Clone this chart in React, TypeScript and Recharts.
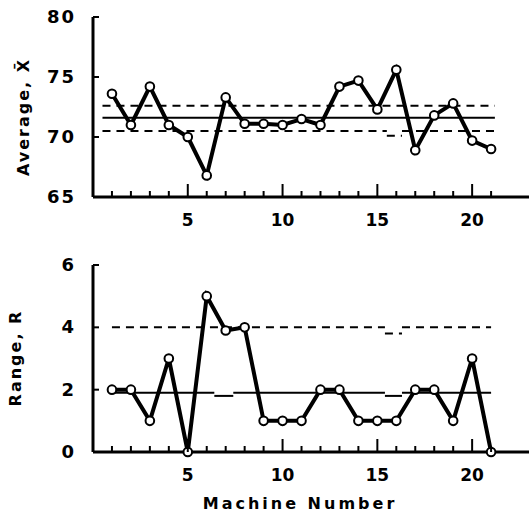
import React from "react";
import {
  LineChart,
  Line,
  XAxis,
  YAxis,
  ReferenceLine,
} from "recharts";

const machines = [1, 2, 3, 4, 5, 6, 7, 8, 9, 10, 11, 12, 13, 14, 15, 16, 17, 18, 19, 20, 21];
const averages = [73.6, 71.0, 74.2, 71.0, 70.0, 66.8, 73.3, 71.1, 71.1, 71.0, 71.5, 71.0, 74.2, 74.7, 72.3, 75.6, 68.9, 71.8, 72.8, 69.7, 69.0];
const ranges = [2, 2, 1, 3, 0, 5, 3.9, 4, 1, 1, 1, 2, 2, 1, 1, 1, 2, 2, 1, 3, 0];

const machineTicks = machines;
const labeledTicks = [5, 10, 15, 20];
const avgTicks = [65, 70, 75, 80];
const rangeTicks = [0, 2, 4, 6];

// control limits, as [from machine, to machine, value] pieces
const avgCenter = [[0.5, 21.2, 71.6]];
const avgUcl = [[0.5, 21.2, 72.6]];
const avgLcl = [
  [0.5, 15.5, 70.5],
  [15.5, 16.3, 70.1],
  [16.3, 21.2, 70.5],
];
const rangeCenter = [
  [1, 6.4, 1.9],
  [6.4, 7.4, 1.8],
  [7.4, 15.4, 1.9],
  [15.4, 16.3, 1.8],
  [16.3, 21, 1.9],
];
const rangeUcl = [
  [1, 15.4, 4.0],
  [15.4, 16.3, 3.8],
  [16.3, 21, 4.0],
];

const avgData = machines.map((m, i) => ({ m, v: averages[i] }));
const rangeData = machines.map((m, i) => ({ m, v: ranges[i] }));

const FONT = "'DejaVu Sans', sans-serif";

function XTick(props: any) {
  const { x, y, payload } = props;
  const major = labeledTicks.includes(payload.value);
  return (
    <g>
      <line x1={x} y1={y} x2={x} y2={y - (major ? 13 : 6)} stroke="#000" strokeWidth={2} />
      {major && (
        <text
          x={x}
          y={y + 29}
          textAnchor="middle"
          fontFamily={FONT}
          fontWeight="bold"
          fontSize={17}
          fill="#000"
        >
          {payload.value}
        </text>
      )}
    </g>
  );
}

function YTick(props: any) {
  const { x, y, payload } = props;
  return (
    <g>
      <line x1={x} y1={y} x2={x + 6} y2={y} stroke="#000" strokeWidth={2} />
      <text
        x={x - 17}
        y={y + 6}
        textAnchor="end"
        fontFamily={FONT}
        fontWeight="bold"
        fontSize={18}
        letterSpacing={2}
        fill="#000"
      >
        {payload.value}
      </text>
    </g>
  );
}

const dotStyle = { r: 4.3, fill: "#fff", stroke: "#000", strokeWidth: 2 };

function limitLines(pieces: number[][], dashed: boolean, key: string) {
  return pieces.map(([a, b, v], i) => (
    <ReferenceLine
      key={key + i}
      segment={[{ x: a, y: v }, { x: b, y: v }]}
      stroke="#000"
      strokeWidth={2}
      strokeDasharray={dashed ? "8 6" : undefined}
    />
  ));
}

function ControlChart({
  data,
  height,
  margin,
  domain,
  yTicks,
  center,
  ucl,
  lcl,
}: any) {
  return (
    <LineChart width={529} height={height} data={data} margin={margin}>
      <XAxis
        dataKey="m"
        type="number"
        domain={[0, 23]}
        ticks={machineTicks}
        interval={0}
        tickSize={0}
        tickMargin={0}
        tickLine={false}
        height={30}
        axisLine={{ stroke: "#000", strokeWidth: 3 }}
        tick={<XTick />}
      />
      <YAxis
        type="number"
        domain={domain}
        ticks={yTicks}
        interval={0}
        tickSize={0}
        tickMargin={0}
        tickLine={false}
        width={60}
        axisLine={{ stroke: "#000", strokeWidth: 3 }}
        tick={<YTick />}
      />
      {limitLines(center, false, "c")}
      {limitLines(ucl, true, "u")}
      {lcl && limitLines(lcl, true, "l")}
      <Line
        type="linear"
        dataKey="v"
        stroke="#000"
        strokeWidth={4}
        dot={dotStyle}
        activeDot={false}
        isAnimationActive={false}
      />
    </LineChart>
  );
}

const titleStyle: React.CSSProperties = {
  position: "absolute",
  fontFamily: FONT,
  fontWeight: "bold",
  fontSize: 16,
  letterSpacing: 2,
  whiteSpace: "nowrap",
  color: "#000",
};

export default function App() {
  return (
    <div
      style={{
        position: "absolute",
        left: 0,
        top: 0,
        width: 529,
        height: 516,
        background: "#fff",
        overflow: "hidden",
      }}
    >
      <div style={{ position: "absolute", left: 0, top: 0 }}>
        <ControlChart
          data={avgData}
          height={240}
          margin={{ top: 17, right: 0, bottom: 13, left: 33 }}
          domain={[65, 80]}
          yTicks={avgTicks}
          center={avgCenter}
          ucl={avgUcl}
          lcl={avgLcl}
        />
      </div>
      <div style={{ position: "absolute", left: 0, top: 240 }}>
        <ControlChart
          data={rangeData}
          height={276}
          margin={{ top: 25, right: 0, bottom: 34, left: 33 }}
          domain={[0, 6]}
          yTicks={rangeTicks}
          center={rangeCenter}
          ucl={rangeUcl}
        />
      </div>
      <div
        style={{
          ...titleStyle,
          left: 23,
          top: 117,
          transform: "translate(-50%, -50%) rotate(-90deg)",
        }}
      >
        Average, X̄
      </div>
      <div
        style={{
          ...titleStyle,
          left: 15,
          top: 358,
          transform: "translate(-50%, -50%) rotate(-90deg)",
        }}
      >
        Range, R
      </div>
      <div
        style={{
          ...titleStyle,
          left: 300,
          top: 494,
          transform: "translateX(-50%)",
          letterSpacing: 3,
        }}
      >
        Machine Number
      </div>
    </div>
  );
}
